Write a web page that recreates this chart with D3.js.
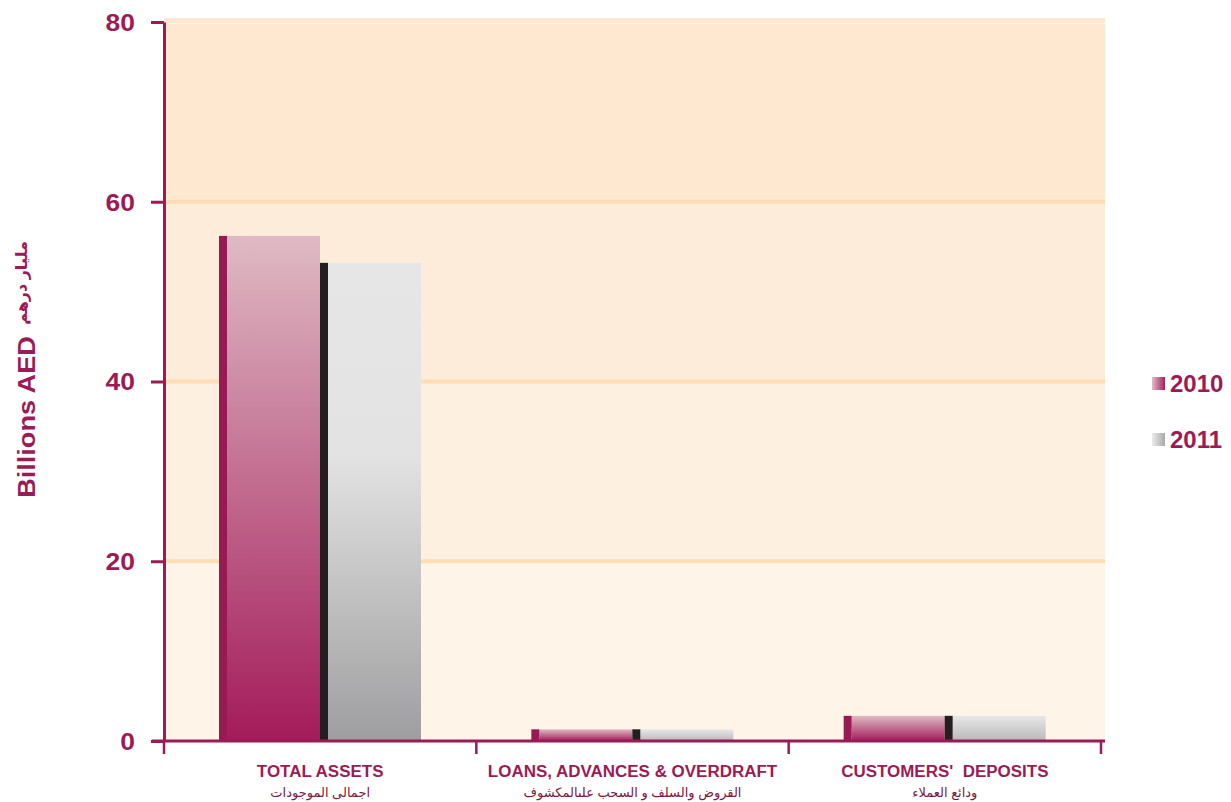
<!DOCTYPE html>
<html><head><meta charset="utf-8">
<script src="https://cdn.jsdelivr.net/npm/d3@7"></script>
<style>body{margin:0;background:#fff}svg{display:block}text{font-family:"Liberation Sans",Arial,"DejaVu Sans",sans-serif}</style>
</head><body><svg id="c" width="1231" height="802"></svg>
<script>
const categories = ["TOTAL ASSETS","LOANS, ADVANCES & OVERDRAFT","CUSTOMERS'  DEPOSITS"];
const categoriesAr = ["اجمالى الموجودات","القروض والسلف و السحب علىالمكشوف","ودائع العملاء"];
const seriesNames = ["2010","2011"];
const values2010 = [56.2, 1.3, 2.8];
const values2011 = [53.2, 1.3, 2.8];
const yTicks = [0,20,40,60,80];

const maroon = "#9b1b57";
const svg = d3.select("#c");
const L = 164, R = 1101, T = 22, B = 741;
const y = d3.scaleLinear().domain([0,80]).range([B,T]);
const x0 = d3.scaleBand().domain(categories).range([L,R]).padding(0);
const x1 = d3.scaleBand().domain(seriesNames).range([55, 257]).padding(0);

function widen(sel, f){ sel.each(function(){ const n=this; const w=n.getComputedTextLength(); d3.select(n).attr("textLength", w*f).attr("lengthAdjust","spacingAndGlyphs"); }); }

const defs = svg.append("defs");
const g1 = defs.append("linearGradient").attr("id","gPink").attr("x1",0).attr("y1",0).attr("x2",0).attr("y2",1);
g1.append("stop").attr("offset","0%").attr("stop-color","#dfbac3");
g1.append("stop").attr("offset","100%").attr("stop-color","#a31b5a");
const g2 = defs.append("linearGradient").attr("id","gGray").attr("x1",0).attr("y1",0).attr("x2",0).attr("y2",1);
g2.append("stop").attr("offset","0%").attr("stop-color","#e6e6e6");
g2.append("stop").attr("offset","40%").attr("stop-color","#e3e3e3");
g2.append("stop").attr("offset","100%").attr("stop-color","#9e9ea0");
const gs = defs.append("linearGradient").attr("id","gGraySmall").attr("x1",0).attr("y1",0).attr("x2",0).attr("y2",1);
gs.append("stop").attr("offset","0%").attr("stop-color","#e8e8e8");
gs.append("stop").attr("offset","100%").attr("stop-color","#b8b8b8");
const l1 = defs.append("linearGradient").attr("id","lPink").attr("x1",0).attr("y1",0).attr("x2",1).attr("y2",0);
l1.append("stop").attr("offset","0%").attr("stop-color","#e3bcc6");
l1.append("stop").attr("offset","100%").attr("stop-color","#a52060");
const l2 = defs.append("linearGradient").attr("id","lGray").attr("x1",0).attr("y1",0).attr("x2",1).attr("y2",0);
l2.append("stop").attr("offset","0%").attr("stop-color","#ececec");
l2.append("stop").attr("offset","100%").attr("stop-color","#a9a9ab");

// background bands
const bandColors = ["#fef4e8","#fdf0e1","#feecda","#fee8cf"];
const bandsData = d3.range(4).map(i=>({lo:yTicks[i],hi:yTicks[i+1],c:bandColors[i]}));
svg.append("g").selectAll("rect").data(bandsData).join("rect")
  .attr("x",L).attr("width",1105-L)
  .attr("y",d=>d.hi===80? 18 : y(d.hi)).attr("height",d=>y(d.lo)-(d.hi===80?18:y(d.hi)))
  .attr("fill",d=>d.c);
svg.append("g").selectAll("rect").data([20,40,60]).join("rect")
  .attr("x",L).attr("width",1105-L).attr("y",d=>y(d)-2).attr("height",4).attr("fill","#fddcb6");
svg.append("rect").attr("x",L).attr("width",1105-L).attr("y",y(80)+1).attr("height",1).attr("fill","#fff3e6");

// bars
const data = categories.map((c,i)=>({c, v:[values2010[i], values2011[i]]}));
const grp = svg.append("g").selectAll("g").data(data).join("g")
  .attr("transform",d=>`translate(${x0(d.c)},0)`);
seriesNames.forEach((s,si)=>{
  grp.append("rect")
    .attr("x",x1(s)+8).attr("width",x1.bandwidth()-8)
    .attr("y",d=>y(d.v[si])).attr("height",d=>B-y(d.v[si]))
    .attr("fill",d=> si===0 ? "url(#gPink)" : (d.v[si]>10 ? "url(#gGray)" : "url(#gGraySmall)"));
  grp.append("rect")
    .attr("x",x1(s)).attr("width",8)
    .attr("y",d=>y(d.v[si])).attr("height",d=>B-y(d.v[si]))
    .attr("fill", si===0 ? "#981a55" : "#231f20");
});

// y axis
const yAxis = d3.axisLeft(y).tickValues(yTicks).tickSize(13).tickPadding(16).tickSizeOuter(0);
const ya = svg.append("g").attr("transform",`translate(${L},0)`).call(yAxis);
ya.select(".domain").attr("stroke",maroon).attr("stroke-width",3);
ya.selectAll(".tick line").attr("stroke",maroon).attr("stroke-width",3);
ya.selectAll(".tick text").attr("fill",maroon).attr("font-size",23).attr("font-weight","bold")
  .attr("dy","0.36em").attr("font-family","Liberation Sans, Arial, sans-serif");
widen(ya.selectAll(".tick text"), 1.15);

// x axis
svg.append("line").attr("x1",152).attr("x2",1105).attr("y1",B).attr("y2",B).attr("stroke",maroon).attr("stroke-width",3);
svg.append("g").selectAll("line").data([L,...categories.map(c=>x0(c)+x0.bandwidth())]).join("line")
  .attr("x1",d=>d).attr("x2",d=>d).attr("y1",B).attr("y2",B+13).attr("stroke",maroon).attr("stroke-width",2.5);
const xl = svg.append("g").selectAll("text").data(categories).join("text")
  .attr("x",c=>x0(c)+x0.bandwidth()/2).attr("y",777)
  .attr("text-anchor","middle").attr("fill",maroon).attr("font-size",16).attr("font-weight","bold")
  .style("white-space","pre").text(c=>c);
widen(xl, 1.06);
svg.append("g").selectAll("text").data(categoriesAr).join("text")
  .attr("x",(c,i)=>x0(categories[i])+x0.bandwidth()/2).attr("y",797)
  .attr("text-anchor","middle").attr("fill","#7a1745").attr("font-size",13).attr("direction","rtl")
  .text(c=>c);

// y title
const yt = svg.append("text").attr("transform","translate(35,417) rotate(-90)")
  .attr("text-anchor","middle").attr("fill",maroon).attr("font-size",24).attr("font-weight","bold").text("Billions AED");
widen(yt, 1.13);
svg.append("text").attr("transform","translate(27,283) rotate(-90)")
  .attr("text-anchor","middle").attr("fill",maroon).attr("font-size",16).attr("font-weight","bold").text("مليار درهم");

// legend
const leg = svg.append("g").selectAll("g").data(seriesNames).join("g")
  .attr("transform",(d,i)=>`translate(1152,${377+i*56})`);
leg.append("rect").attr("width",13).attr("height",13).attr("fill",(d,i)=>i===0?"url(#lPink)":"url(#lGray)");
const lt = leg.append("text").attr("x",18).attr("y",15).attr("fill",maroon).attr("font-size",24).attr("font-weight","bold").text(d=>d);
widen(lt, 1.0);
</script></body></html>
